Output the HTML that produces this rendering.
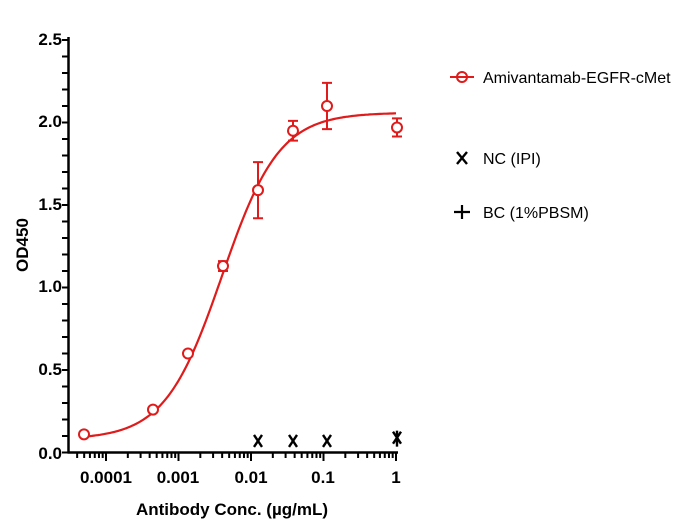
<!DOCTYPE html><html><head><style>body{margin:0;background:#fff}svg{display:block;font-family:"Liberation Sans",Arial,sans-serif}</style></head><body>
<svg id="s" width="696" height="532" viewBox="0 0 696 532" xmlns="http://www.w3.org/2000/svg">
<g stroke="#000" stroke-width="2.5" fill="none">
<line x1="68.5" y1="37" x2="68.5" y2="453.5"/>
<line x1="67.5" y1="452.5" x2="398" y2="452.5"/>
</g>
<g id="ax" stroke="#000" stroke-width="2"></g>
<g font-size="17" font-weight="bold" text-anchor="end">
<text x="62" y="45">2.5</text><text x="62" y="127">2.0</text><text x="62" y="210">1.5</text><text x="62" y="292">1.0</text><text x="62" y="375">0.5</text><text x="62" y="459">0.0</text>
</g>
<g font-size="17" font-weight="bold" text-anchor="middle">
<text x="106" y="483">0.0001</text><text x="178" y="483">0.001</text><text x="251" y="483">0.01</text><text x="323" y="483">0.1</text><text x="396" y="483">1</text>
<text x="232" y="515">Antibody Conc. (µg/mL)</text>
<text transform="translate(28,245) rotate(-90)">OD450</text>
</g>
<path id="curve" stroke="#e01b1b" stroke-width="2.2" fill="none"/>
<g id="pts" stroke="#e01b1b" stroke-width="2" fill="none"></g>
<g id="nc" stroke="#000" stroke-width="2.4"></g>
<g font-size="16">
<line x1="450" y1="77" x2="474" y2="77" stroke="#e01b1b" stroke-width="2"/><circle cx="462" cy="77" r="5" stroke="#e01b1b" stroke-width="2" fill="none"/>
<text x="483" y="83">Amivantamab-EGFR-cMet</text>
<path d="M457 152 L467 164 M467 152 L457 164" stroke="#000" stroke-width="2.4"/>
<text x="483" y="164">NC (IPI)</text>
<path d="M454 212 L470 212 M462 205 L462 219" stroke="#000" stroke-width="2.2"/>
<text x="483" y="218">BC (1%PBSM)</text>
</g>
</svg>
<script>
var NS="http://www.w3.org/2000/svg";
function X(l){return 106+(l+4)*72.5}function Y(v){return 452.5-165*v}
function el(p,t,a){var e=document.createElementNS(NS,t);for(var k in a)e.setAttribute(k,a[k]);document.getElementById(p).appendChild(e);return e}
for(var i=0;i<=25;i++){var y=Y(i*0.1);el("ax","line",{x1:62,x2:68.5,y1:y,y2:y});}
for(var d=-5;d<=0;d++)for(var m=1;m<10;m++){var l=d+Math.log10(m);var x=X(l);if(x<69||x>397)continue;el("ax","line",{x1:x,x2:x,y1:452.5,y2:m==1?461:458});}
var b=0.08,t=2.06,ec=-2.4,h=1.1,dd="";
for(var x=84;x<=397;x+=2){var l=-4+(x-106)/72.5;var v=b+(t-b)/(1+Math.pow(10,(ec-l)*h));dd+=(x==84?"M":"L")+x+" "+Y(v).toFixed(1)+" ";}
document.getElementById("curve").setAttribute("d",dd);
var P=[[84,0.11,0],[153,0.26,0],[188,0.60,0],[223,1.13,0.03],[258,1.59,0.17],[293,1.95,0.06],[327,2.10,0.14],[397,1.97,0.055]];
P.forEach(function(p){var y=Y(p[1]);if(p[2]){var y1=Y(p[1]+p[2]),y2=Y(p[1]-p[2]);el("pts","path",{d:"M"+p[0]+" "+y1+"V"+y2+"M"+(p[0]-5)+" "+y1+"h10M"+(p[0]-5)+" "+y2+"h10"});}el("pts","circle",{cx:p[0],cy:y,r:5,fill:"#fff"});});
[[258,0.07],[293,0.07],[327,0.07],[397,0.09]].forEach(function(p){var y=Y(p[1]);el("nc","path",{d:"M"+(p[0]-4)+" "+(y-6)+"L"+(p[0]+4)+" "+(y+6)+"M"+(p[0]+4)+" "+(y-6)+"L"+(p[0]-4)+" "+(y+6)});});
el("nc","path",{d:"M397 "+(Y(0.09)-7)+"V"+(Y(0.09)+9)});
</script>
</body></html>
